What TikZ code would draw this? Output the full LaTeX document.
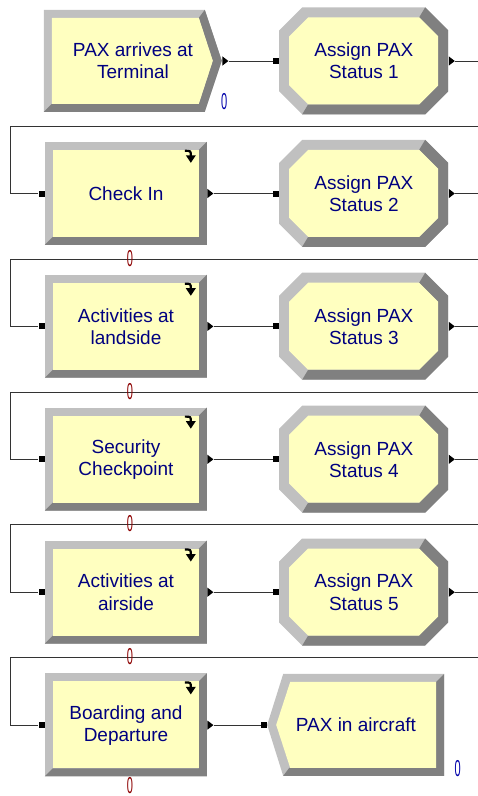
\documentclass[tikz,border=0pt]{standalone}
\usepackage{graphicx}
\usepackage{fontspec}
\setmainfont{Liberation Sans}
\usepackage{tikz}
\usetikzlibrary{shapes.geometric, positioning, backgrounds}

\definecolor{modfill}{RGB}{255,255,192}
\definecolor{bevlight}{RGB}{192,192,192}
\definecolor{bevdark}{RGB}{128,128,128}
\definecolor{modtext}{RGB}{0,0,128}
\definecolor{cntblue}{RGB}{0,0,170}
\definecolor{cntred}{RGB}{140,0,0}
\newcommand\modfont{\fontsize{19}{22}\selectfont}
\newcommand\cntfont{\fontsize{23}{23}\selectfont}
\newcommand\zerocount{\scalebox{0.48}[1]{0}}

\tikzset{
  processbevel/.pic={
    \fill[bevlight] (0,0) rectangle (162,103);
    \fill[bevdark] (162,0) -- (162,103) -- (0,103) -- (8,95) -- (154,95) -- (154,8) -- cycle;
    \fill[modfill] (8,8) rectangle (154,95);
    \draw[line width=2.2pt] (140,9) .. controls (146,9) .. (146,14);
    \fill (141,13.5) -- (151,13.5) -- (146,21) -- cycle;
  },
  assignbevel/.pic={
    \fill[bevlight] (23,0) -- (146,0) -- (169,23) -- (169,84) -- (146,107) -- (23,107) -- (0,84) -- (0,23) -- cycle;
    \fill[bevdark] (146,0) -- (169,23) -- (169,84) -- (146,107) -- (23,107) -- (29,97) -- (140,97) -- (159,78) -- (159,29) -- (140,10) -- cycle;
    \fill[modfill] (29,10) -- (140,10) -- (159,29) -- (159,78) -- (140,97) -- (29,97) -- (10,78) -- (10,29) -- cycle;
  },
  createbevel/.pic={
    \fill[bevlight] (0,0) -- (161,0) -- (178,51) -- (161,102) -- (0,102) -- cycle;
    \fill[bevdark] (161,0) -- (178,51) -- (161,102) -- (0,102) -- (8,94) -- (155,94) -- (169,51) -- (155,8) -- cycle;
    \fill[modfill] (8,8) -- (155,8) -- (169,51) -- (155,94) -- (8,94) -- cycle;
  },
  disposebevel/.pic={
    \fill[bevlight] (16,0) -- (177,0) -- (177,102) -- (16,102) -- (0,51) -- cycle;
    \fill[bevdark] (177,0) -- (177,102) -- (16,102) -- (22,94) -- (169,94) -- (169,8) -- cycle;
    \fill[modfill] (23,8) -- (169,8) -- (169,94) -- (23,94) -- (9,51) -- cycle;
  }
}

\begin{document}
\begin{tikzpicture}[
    x=1pt, y=-1pt,
    module/.style={inner sep=0pt, align=center, text=modtext, font=\modfont},
    process/.style={module, minimum width=162pt, minimum height=103pt},
    assign/.style={module, minimum width=169pt, minimum height=107pt},
    create/.style={module, minimum width=178pt, minimum height=102pt},
    dispose/.style={module, minimum width=177pt, minimum height=102pt},
    inport/.style={rectangle, fill=black, minimum size=6pt, inner sep=0pt},
    outport/.style={isosceles triangle, isosceles triangle apex angle=75, fill=black,
      minimum height=6pt, minimum width=6pt, inner sep=0pt},
    conn/.style={draw=black!80, line width=0.8pt},
    counter/.style={inner sep=0pt, font=\cntfont}
]
\useasboundingbox (0,0) rectangle (478,796);
\clip (0,0) rectangle (478,796);

% modules
\node[create] (create) at (133,61) {PAX arrives at\\Terminal};
\node[assign, right=57pt of create] (assign1) {Assign PAX\\Status 1};
\node[process] (checkin) at (126,193.5) {Check In};
\node[assign, right=72pt of checkin] (assign2) {Assign PAX\\Status 2};
\node[process, below=29.5pt of checkin] (landside) {Activities at\\landside};
\node[assign, right=72pt of landside] (assign3) {Assign PAX\\Status 3};
\node[process, below=29.5pt of landside] (security) {Security\\Checkpoint};
\node[assign, right=72pt of security] (assign4) {Assign PAX\\Status 4};
\node[process, below=29.5pt of security] (airside) {Activities at\\airside};
\node[assign, right=72pt of airside] (assign5) {Assign PAX\\Status 5};
\node[process, below=29.5pt of airside] (boarding) {Boarding and\\Departure};
\node[dispose, right=60pt of boarding] (dispose) {PAX in aircraft};

% bevelled frames behind the text
\begin{scope}[on background layer]
\pic at (create.north west) {createbevel};
\pic at (dispose.north west) {disposebevel};
\foreach \m in {checkin, landside, security, airside, boarding}
  \pic at (\m.north west) {processbevel};
\foreach \m in {assign1, assign2, assign3, assign4, assign5}
  \pic at (\m.north west) {assignbevel};
\end{scope}

% ports
\node[outport, right=0pt of create] (createout) {};
\node[inport, left=0pt of assign1] (assign1in) {};
\node[outport, right=0pt of assign1] (assign1out) {};
\node[inport, left=0pt of checkin] (checkinin) {};
\node[outport, right=0pt of checkin] (checkinout) {};
\node[inport, left=0pt of assign2] (assign2in) {};
\node[outport, right=0pt of assign2] (assign2out) {};
\node[inport, left=0pt of landside] (landsidein) {};
\node[outport, right=0pt of landside] (landsideout) {};
\node[inport, left=0pt of assign3] (assign3in) {};
\node[outport, right=0pt of assign3] (assign3out) {};
\node[inport, left=0pt of security] (securityin) {};
\node[outport, right=0pt of security] (securityout) {};
\node[inport, left=0pt of assign4] (assign4in) {};
\node[outport, right=0pt of assign4] (assign4out) {};
\node[inport, left=0pt of airside] (airsidein) {};
\node[outport, right=0pt of airside] (airsideout) {};
\node[inport, left=0pt of assign5] (assign5in) {};
\node[outport, right=0pt of assign5] (assign5out) {};
\node[inport, left=0pt of boarding] (boardingin) {};
\node[outport, right=0pt of boarding] (boardingout) {};
\node[inport, left=0pt of dispose] (disposein) {};

% loop rails
\coordinate (loop1) at (10,126.5);
\coordinate (loop2) at (10,259.5);
\coordinate (loop3) at (10,392);
\coordinate (loop4) at (10,524.5);
\coordinate (loop5) at (10,657);

% connectors
\draw[conn] (createout.east) -- (assign1in.west);
\draw[conn] (checkinout.east) -- (assign2in.west);
\draw[conn] (landsideout.east) -- (assign3in.west);
\draw[conn] (securityout.east) -- (assign4in.west);
\draw[conn] (airsideout.east) -- (assign5in.west);
\draw[conn] (boardingout.east) -- (disposein.west);
\draw[conn] (assign1out.east) -- ++(30,0) |- (loop1) |- (checkinin.west);
\draw[conn] (assign2out.east) -- ++(30,0) |- (loop2) |- (landsidein.west);
\draw[conn] (assign3out.east) -- ++(30,0) |- (loop3) |- (securityin.west);
\draw[conn] (assign4out.east) -- ++(30,0) |- (loop4) |- (airsidein.west);
\draw[conn] (assign5out.east) -- ++(30,0) |- (loop5) |- (boardingin.west);

% counters
\node[counter, text=cntblue] (createcnt) at ([xshift=2pt,yshift=11pt]create.south east) {\zerocount};
\node[counter, text=cntblue] (disposecnt) at ([xshift=13pt,yshift=8pt]dispose.south east) {\zerocount};
\node[counter, text=cntred] (checkincnt) at ([xshift=4pt,yshift=-13pt]checkin.south) {\zerocount};
\node[counter, text=cntred] (landsidecnt) at ([xshift=4pt,yshift=-13pt]landside.south) {\zerocount};
\node[counter, text=cntred] (securitycnt) at ([xshift=4pt,yshift=-13pt]security.south) {\zerocount};
\node[counter, text=cntred] (airsidecnt) at ([xshift=4pt,yshift=-13pt]airside.south) {\zerocount};
\node[counter, text=cntred] (boardingcnt) at ([xshift=4pt,yshift=-9pt]boarding.south) {\zerocount};
\end{tikzpicture}
\end{document}
